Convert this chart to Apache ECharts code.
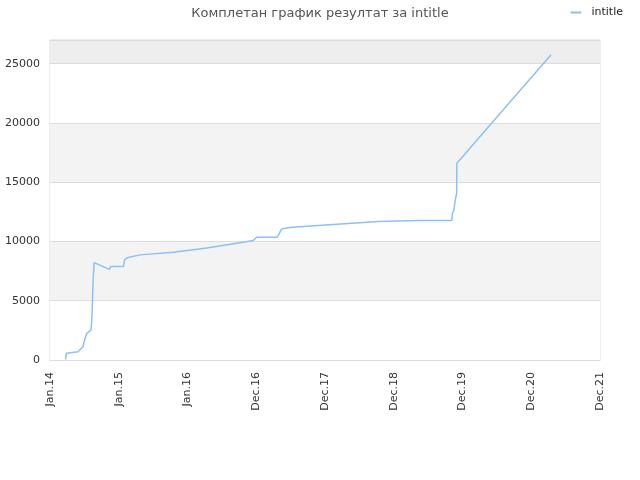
<!DOCTYPE html>
<html>
<head>
<meta charset="utf-8">
<script src="https://cdn.jsdelivr.net/npm/echarts@6/dist/echarts.min.js"></script>
<style>
  html, body { margin: 0; padding: 0; background: #fff; }
  #main { width: 640px; height: 480px; }
</style>
</head>
<body>
<div id="main"></div>
<script>
// x = days since 2014-01-01, ticks every 365 days
var tickLabels = ['Jan.14', 'Jan.15', 'Jan.16', 'Dec.16', 'Dec.17', 'Dec.18', 'Dec.19', 'Dec.20', 'Dec.21'];
var days = [83, 87, 96, 149, 159, 175, 186, 196, 207, 218, 223, 228, 234, 239, 316, 322, 390, 396, 409,
            478, 655, 832, 1009, 1079, 1097, 1207, 1230, 1274, 1345, 1504, 1663, 1743, 1955,
            2133, 2136, 2137, 2145, 2150, 2159, 2160, 2660];
var results = [50, 560, 650, 700, 850, 1120, 1830, 2250, 2390, 2530, 3800, 6300, 8220, 8250, 7650, 7880, 7880, 8450, 8620,
               8870, 9100, 9450, 9900, 10080, 10360, 10360, 11060, 11170, 11260, 11430, 11600, 11690, 11770,
               11770, 11690, 12390, 12670, 13370, 14070, 16610, 25760];

var data = [];
for (var i = 0; i < days.length; i++) {
  data.push([days[i], results[i]]);
}

var myChart = echarts.init(document.getElementById('main'));

var option = {
  animation: false,
  title: {
    text: 'Комплетан график резултат за intitle',
    left: 'center',
    top: 2,
    textStyle: { fontSize: 13, fontWeight: 'normal', color: '#555', fontFamily: 'DejaVu Sans' }
  },
  legend: {
    data: ['intitle'],
    right: 12,
    top: 2,
    icon: 'rect',
    itemWidth: 11,
    itemHeight: 2,
    itemGap: 10,
    textStyle: { fontSize: 11, color: '#222', fontFamily: 'DejaVu Sans', padding: [0, 0, 0, 5] }
  },
  grid: { left: 50, right: 40, top: 40, bottom: 120, show: true, borderColor: '#ddd', borderWidth: 1 },
  xAxis: {
    type: 'value',
    min: 0,
    max: 2920,
    interval: 365,
    axisLine: { lineStyle: { color: '#ddd' } },
    axisTick: { show: false },
    splitLine: { show: false },
    axisLabel: {
      rotate: 90,
      fontSize: 11,
      color: '#333',
      fontFamily: 'DejaVu Sans',
      margin: 12,
      formatter: function (v) { return tickLabels[Math.round(v / 365)]; }
    }
  },
  yAxis: {
    type: 'value',
    min: 0,
    max: 27000,
    interval: 5000,
    axisLine: { show: false },
    axisTick: { show: false },
    splitLine: { lineStyle: { color: '#ddd' } },
    splitArea: { show: true, areaStyle: { color: ['#ffffff', '#f3f3f3', '#ffffff', '#f3f3f3', '#ffffff', '#eeeeee'] } },
    axisLabel: {
      fontSize: 11,
      color: '#333',
      fontFamily: 'DejaVu Sans',
      margin: 10,
      showMaxLabel: false,
      formatter: function (v) { return String(v); }
    }
  },
  series: [{
    name: 'intitle',
    type: 'line',
    data: data,
    symbol: 'none',
    color: '#8ec0f2',
    lineStyle: { width: 1.5, color: '#8ec0f2' }
  }]
};

myChart.setOption(option);
</script>
</body>
</html>
